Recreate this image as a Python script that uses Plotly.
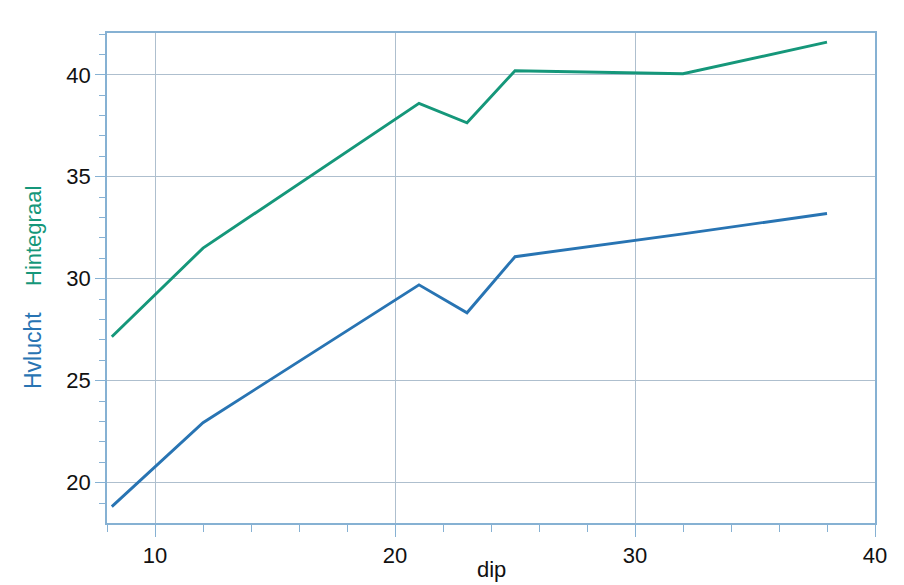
import plotly.graph_objects as go

# dip values and the two measured series
dip = [8.2, 12, 21, 23, 25, 32, 38]
hintegraal = [27.15, 31.5, 38.6, 37.65, 40.2, 40.05, 41.6]
hvlucht = [18.82, 22.94, 29.7, 28.33, 31.08, 32.2, 33.2]

x_ticks = [10, 20, 30, 40]
y_ticks = [20, 25, 30, 35, 40]

GREEN = "#15977a"
BLUE = "#2874b3"
GRID = "#aebfce"
AXIS = "#86b1d3"
FONT = "Liberation Sans, Arial, sans-serif"

fig = go.Figure()
fig.add_trace(go.Scatter(x=dip, y=hintegraal, mode="lines",
                         line=dict(color=GREEN, width=2.9), name="Hintegraal"))
fig.add_trace(go.Scatter(x=dip, y=hvlucht, mode="lines",
                         line=dict(color=BLUE, width=2.9), name="Hvlucht"))

axis_common = dict(
    showline=True, linecolor=AXIS, linewidth=1.6, mirror=True,
    showgrid=True, gridcolor=GRID, gridwidth=1.3,
    ticks="outside", tickcolor=AXIS, tickwidth=1.3,
    tickfont=dict(family=FONT, size=22, color="#111111"),
    zeroline=False,
)

fig.update_xaxes(range=[8, 40], tickvals=x_ticks, ticklen=12,
                 minor=dict(dtick=2, ticks="outside", ticklen=7,
                            tickcolor=AXIS, showgrid=False),
                 **axis_common)
fig.update_yaxes(range=[18.02, 42.05], tickvals=y_ticks, ticklen=10,
                 minor=dict(dtick=1, ticks="outside", ticklen=6,
                            tickcolor=AXIS, showgrid=False),
                 **axis_common)

W, H = 904, 585
ML, MR, MT, MB = 107, 29, 33, 62
pw, ph = W - ML - MR, H - MT - MB

annotations = [
    # axis title kept just inside the bottom edge
    dict(text="dip", x=0.5, xref="paper", y=-(H - MT - ph - 1) / ph,
         yref="paper", yanchor="bottom", showarrow=False,
         font=dict(family=FONT, size=22, color="#111111")),
    dict(text="Hvlucht", x=33, xref="paper", xanchor="center",
         y=351, yref="paper", textangle=-90, showarrow=False,
         font=dict(family=FONT, size=23, color=BLUE)),
    dict(text="Hintegraal", x=33, xref="paper", xanchor="center",
         y=236, yref="paper", textangle=-90, showarrow=False,
         font=dict(family=FONT, size=22, color=GREEN)),
]

# side labels are placed in pixel terms, converted to paper fractions
for a in annotations[1:]:
    a["x"] = (a["x"] - ML) / pw
    a["y"] = 1 - (a["y"] - MT) / ph

fig.update_layout(
    width=W, height=H,
    margin=dict(l=ML, r=MR, t=MT, b=MB),
    paper_bgcolor="white", plot_bgcolor="white",
    showlegend=False,
    annotations=annotations,
)

fig.write_html("out.html")
